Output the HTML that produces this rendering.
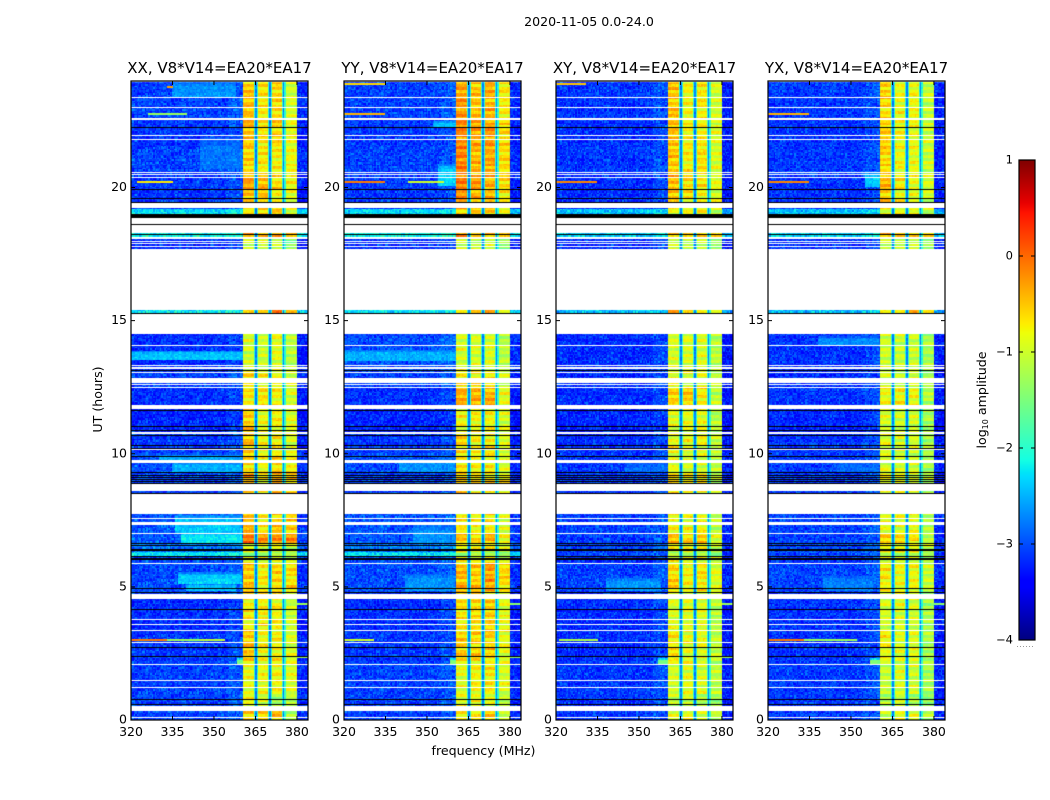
<!DOCTYPE html>
<html lang="en">
<head>
<meta charset="utf-8">
<title>2020-11-05 0.0-24.0</title>
<style>
html,body{margin:0;padding:0;background:#fff;width:1050px;height:800px;overflow:hidden}
#stage{position:relative;width:1050px;height:800px}
canvas{position:absolute;top:81px;display:block}
svg{position:absolute;left:0;top:0}
text{font-family:"DejaVu Sans","Liberation Sans",sans-serif;fill:#000}
</style>
</head>
<body>
<div id="stage">
<canvas id="c0" width="177" height="639" style="left:131px"></canvas>
<canvas id="c1" width="177" height="639" style="left:344px"></canvas>
<canvas id="c2" width="177" height="639" style="left:556px"></canvas>
<canvas id="c3" width="177" height="639" style="left:768px"></canvas>
<svg id="ov" width="1050" height="800">
<text x="589" y="26" text-anchor="middle" font-size="12.600">2020-11-05 0.0-24.0</text>
<text x="483.500" y="755" text-anchor="middle" font-size="12.600">frequency (MHz)</text>
<text transform="translate(102,399.500) rotate(-90)" text-anchor="middle" font-size="12.600">UT (hours)</text>
<text transform="translate(986,400) rotate(-90)" text-anchor="middle" font-size="12.600">log<tspan font-size="8" dy="2">10</tspan><tspan dy="-2"> amplitude</tspan></text>
</svg>
</div>
<script>
/* ---------- chart data ---------- */
const panelTitles = ['XX, V8*V14=EA20*EA17','YY, V8*V14=EA20*EA17','XY, V8*V14=EA20*EA17','YX, V8*V14=EA20*EA17'];
const xTicks = [320,335,350,365,380];
const yTicks = [0,5,10,15,20];
const colorTicks = [1,0,-1,-2,-3,-4];

/* UT edges of the time blocks; each level row below is [background, sub-band 1..4] in log10 amplitude */
const timeEdges = [0,.5,1,2.2,3.35,4.8,5.9,6.18,6.33,6.6,7.05,7.75,8.5,9.3,10,10.8,11.85,12.5,13.1,14.5,15.3,15.41,17.7,18.17,18.3,19,19.2,19.9,20.5,21.5,22.6,24];
const subBandEdges = [360.5,365,370,375,380];

const levelsXX = [
[-2.9,-.6,-.65,-.5,-1.15],[-2.9,-.85,-.95,-1.25,-1.2],[-2.9,-.85,-.85,-.8,-.9],[-2.95,-.55,-.8,-.75,-.95],
[-3,-.75,-.75,-.8,-1.05],[-2.85,-.5,-.75,-.6,-.65],[-2.85,-.9,-.9,-.9,-1],[-2.1,-1.3,-1.3,-1.3,-1.4],
[-2.6,-.85,-.85,-.85,-1],[-2.8,-.1,-.25,-.25,-.25],[-2.8,-.45,-.75,-.55,-.55],[-2.8,-.5,-.7,-.7,-1],
[-2.9,-.4,-.7,-.35,-.5],[-2.8,-.6,-.85,-.6,-.7],[-2.95,-.5,-.8,-.75,-.95],[-3.05,-.55,-.85,-.75,-.9],
[-3,-.75,-.7,-.8,-.95],[-2.9,-.7,-.8,-.8,-1],[-3,-1,-1.05,-.9,-1.15],[-3,-1,-1,-1,-1.15],
[-2.1,-.4,-.5,-.2,-.5],[-3,-1,-1,-1,-1.4],[-3,-1.05,-1.05,-1.05,-1.4],[-2,-.3,-.35,-.4,-.5],
[-3,-1,-1,-1,-1.4],[-2.15,-.75,-.55,-.5,-.9],[-2.95,-.45,-.5,-.75,-.85],[-2.95,-.35,-.45,-.6,-.8],
[-2.9,-.6,-.7,-.75,-.85],[-2.95,-.45,-.7,-.6,-.85],[-2.9,-.5,-.7,-.6,-1]];

const levelsYY = [
[-2.9,-.7,-.6,-.55,-1.15],[-2.9,-.9,-.85,-.9,-1.15],[-2.9,-.9,-.8,-.75,-.95],[-2.95,-.6,-.6,-.55,-.9],
[-3,-.7,-.65,-.6,-.9],[-2.85,-.45,-.5,-.3,-.65],[-2.85,-.8,-.8,-.7,-1],[-2.1,-1.3,-1.3,-1.3,-1.5],
[-2.6,-.8,-.8,-.8,-1],[-2.8,-.5,-.65,-.4,-.8],[-2.8,-.7,-.75,-.65,-.95],[-2.8,-.5,-.6,-.6,-.95],
[-2.9,-.45,-.7,-.65,-.8],[-2.85,-.7,-.8,-.75,-.95],[-2.95,-.65,-.75,-.7,-.95],[-3.05,-.8,-.8,-.8,-1],
[-3,-.4,-.4,-.4,-.9],[-2.9,-.75,-.75,-.75,-1],[-2.85,-.95,-.95,-.95,-1.15],[-3,-1,-1,-1,-1.15],
[-2.1,-.5,-.5,-.5,-.8],[-3,-1,-1,-1,-1.4],[-3,-1.05,-1.05,-1.05,-1.4],[-2,-.3,-.4,-.4,-.6],
[-3,-1,-1,-1,-1.4],[-2.15,-.7,-.6,-.6,-.95],[-2.95,-.2,-.4,-.45,-.8],[-2.95,-.15,-.3,-.4,-.6],
[-2.9,-.15,-.45,-.35,-.65],[-2.95,-.2,-.35,-.3,-.65],[-2.9,-.3,-.5,-.4,-.75]];

const levelsXY = [
[-2.95,-.95,-.8,-.95,-1.1],[-2.95,-1.1,-1,-1.2,-1.3],[-2.95,-1,-.9,-.95,-1.1],[-3,-.7,-.85,-.9,-1.1],
[-3,-.95,-.9,-.9,-1.15],[-2.9,-.6,-.75,-.7,-.95],[-3,-.9,-.9,-.9,-1.1],[-2.9,-1.2,-1.2,-1.2,-1.4],
[-2.9,-.8,-.8,-.8,-1.1],[-2.9,-.45,-.55,-.55,-.95],[-2.9,-.85,-.85,-.8,-1.1],[-2.9,-.8,-.85,-.85,-1.1],
[-2.95,-.7,-.8,-.8,-1.05],[-2.95,-.9,-.95,-.95,-1.15],[-3,-.8,-.85,-.85,-1.1],[-3.05,-.9,-.9,-.9,-1.15],
[-3,-.6,-.55,-.7,-1.1],[-3,-.9,-.9,-.9,-1.15],[-3,-.95,-.95,-.95,-1.15],[-3,-1,-1,-1,-1.15],
[-2.3,-.5,-.6,-.5,-.9],[-3,-1,-1,-1,-1.4],[-3,-1.05,-1.05,-1.05,-1.4],[-2.2,-.45,-.5,-.55,-.7],
[-3,-1,-1,-1,-1.4],[-2.25,-.9,-.8,-.75,-1.05],[-3,-.55,-.7,-.8,-.95],[-3,-.45,-.6,-.7,-.9],
[-2.95,-.5,-.75,-.7,-.95],[-3,-.5,-.75,-.7,-.95],[-2.95,-.5,-.8,-.75,-1]];

const levelsYX = [
[-2.95,-1.05,-.9,-.95,-1.25],[-2.95,-1.2,-1.05,-1.25,-1.4],[-2.95,-1.1,-.95,-1,-1.25],[-3,-.8,-.95,-.95,-1.25],
[-3,-1,-.95,-1,-1.25],[-2.9,-.75,-.85,-.85,-1.1],[-3,-.9,-.95,-.95,-1.2],[-2.9,-1.2,-1.2,-1.2,-1.4],
[-2.9,-.75,-.8,-.8,-1.1],[-2.9,-.6,-.7,-.7,-1.05],[-2.9,-.9,-.9,-.9,-1.2],[-2.9,-.8,-.85,-.9,-1.2],
[-2.95,-.8,-.85,-.9,-1.15],[-2.95,-1,-1,-1,-1.25],[-3,-.9,-.95,-1,-1.25],[-3.05,-1,-1,-1,-1.25],
[-3,-.85,-.75,-.85,-1.2],[-3,-1,-1,-1,-1.25],[-3,-1.05,-1.05,-1.05,-1.25],[-3,-1,-1,-1,-1.25],
[-2.3,-.5,-.6,-.5,-.9],[-3,-1,-1,-1,-1.4],[-3,-1.05,-1.05,-1.05,-1.4],[-2.2,-.45,-.5,-.55,-.7],
[-3,-1,-1,-1,-1.4],[-2.25,-.95,-.85,-.85,-1.1],[-3,-.6,-.8,-.9,-1.05],[-3,-.45,-.7,-.85,-1],
[-2.95,-.6,-.85,-.9,-1.05],[-3,-.6,-.8,-.85,-1.05],[-2.95,-.6,-.85,-.85,-1.1]];

/* unobserved (white) and flagged (black) time ranges, UT hours */
const whiteGaps = [[.08,.12],[.33,.51],[1.2,1.24],[1.45,1.52],[2.05,2.09],[2.88,2.92],[3.33,3.37],[3.56,3.6],[3.74,3.78],[4.54,4.58],[4.59,4.74],[5.86,5.9],[6.99,7.03],[7.31,7.42],[7.56,7.6],[7.74,8.47],[8.59,8.85],[9.67,9.75],[10.13,10.17],[10.73,10.82],[11.68,11.82],[12.48,12.5],[12.58,12.62],[12.67,12.86],[13.02,13.08],[13.2,13.24],[13.31,13.35],[14.04,14.08],[14.48,15.24],[15.41,17.7],[17.78,17.82],[17.87,17.92],[17.97,18],[18.08,18.14],[18.3,18.62],[18.64,18.84],[19.22,19.41],[20.35,20.39],[20.46,20.5],[20.53,20.57],[21.77,21.81],[21.94,21.98],[22.54,22.6],[22.97,23.01],[23.35,23.39]];
const blackBands = [[.57,.61],[.75,.79],[2.38,2.42],[2.69,2.73],[4.12,4.16],[4.78,4.82],[4.91,4.95],[6,6.04],[6.06,6.1],[6.13,6.17],[6.34,6.44],[6.52,6.56],[6.6,6.64],[8.47,8.51],[8.85,8.89],[8.94,8.98],[9.02,9.06],[9.1,9.14],[9.18,9.22],[9.27,9.31],[9.86,9.9],[10.18,10.22],[10.29,10.33],[10.65,10.69],[10.85,10.89],[11.01,11.05],[11.59,11.63],[13.1,13.14],[15.24,15.3],[18.2,18.24],[18.62,18.64],[18.84,18.99],[19.41,19.45],[19.55,19.59],[19.9,19.94],[22.25,22.29]];

/* brighter broad patches: [utFrom, utTo, freqFrom, freqTo, level] */
const patchesXX = [[4.85,5.1,340,358,-2.4],[5.1,5.55,337,360,-2.35],[6.6,7.05,338,360,-2.25],[7.05,7.7,336,360,-2.4],[13.55,13.87,320,360.5,-2.4],[9.3,9.7,335,360,-2.5],[9.76,9.95,330,360,-2.55],[23.4,24,335,358,-2.65],[20.7,21.9,345,360,-2.8],[2.1,2.3,358.5,360.5,-1.5]];
const patchesYY = [[4.85,5.5,342,360,-2.65],[6.65,7.3,345,360,-2.65],[13.5,13.9,320,360.5,-2.5],[9.3,9.8,340,360,-2.65],[20.1,20.9,354,360.5,-2.35],[22.3,22.5,352,360.5,-2.45],[2.1,2.3,358.5,360.5,-1.5]];
const patchesXY = [[4.85,5.35,338,358,-2.65],[9.3,9.7,345,360,-2.85],[2.1,2.3,357,360.5,-1.5],[2.18,2.3,360.5,367,-1.25]];
const patchesYX = [[4.85,5.4,340,358,-2.75],[14.1,14.4,338,360,-2.7],[20,20.6,355,360.5,-2.4],[9.3,9.7,345,360,-2.85],[2.1,2.3,357,360.5,-1.5]];

/* narrow-band streaks: [ut, freqFrom, freqTo, level] */
const streaksXX = [[3.05,320,333,-.1],[3.05,333,345,-1.3],[3.05,345,354,-1.1],[20.25,322,335,-.7],[22.8,326,340,-1.3],[23.82,333,335,-.3],[4.4,380,384,-1.3],[2.4,380,384,-1.3]];
const streaksYY = [[23.93,320,335,-.6],[22.8,320,335,-.4],[20.25,320,335,-.1],[20.25,343,356,-1],[3.05,320,331,-1],[4.4,380,384,-1.4],[2.4,380,384,-1.4]];
const streaksXY = [[23.93,320,331,-.5],[20.25,320,335,-.15],[3.05,321,335,-1.2],[4.4,380,384,-1.3],[2.4,380,384,-1.3]];
const streaksYX = [[22.8,320,335,-.4],[20.25,320,335,-.15],[3.05,320,333,-.1],[3.05,333,352,-1.3],[4.4,380,384,-1.4]];

/* visual texture only (not measured data): hand-typed grain offsets, log10 amplitude */
const speckle = [-.34,.18,-.12,.41,-.27,.05,.29,-.41,.12,-.06,.36,-.22,.23,-.38,.02,.47,-.17,.09,-.3,.26,-.09,.33,-.45,.15,-.2,.39,-.02,-.33,.21,.07,-.25,.44,-.14,.11,-.37,.3,-.05];
const rowRipple = [.16,-.22,.3,.04,-.28,.2,-.08,.32,-.16,.08,-.32,.24,0,-.24,.34,-.12,.12,-.34,.2,-.04,.26,-.18,.06];

const panelLevels = [levelsXX,levelsYY,levelsXY,levelsYX];
const panelPatches = [patchesXX,patchesYY,patchesXY,patchesYX];
const panelStreaks = [streaksXX,streaksYY,streaksXY,streaksYX];

/* ---------- axis functions ---------- */
const panelLefts = [131,344,556,768];
const axW = 177, axH = 639, axTop = 81;
const xOf = f => (f-320)*axW/64;
const yOf = ut => axH-ut*axH/24;
const cbarY = v => 160+(1-v)*96;

function interp(stops,t){
  for(let i=1;i<stops.length;i++){
    if(t<=stops[i][0]){
      const a=stops[i-1],b=stops[i];
      return a[1]+(b[1]-a[1])*(t-a[0])/(b[0]-a[0]);
    }
  }
  return stops[stops.length-1][1];
}
const jetR=[[0,0],[.35,0],[.66,1],[.89,1],[1,.5]];
const jetG=[[0,0],[.125,0],[.375,1],[.64,1],[.91,0],[1,0]];
const jetB=[[0,.5],[.11,1],[.34,1],[.65,0],[1,0]];
function jet(v){
  const t=Math.max(0,Math.min(1,(v+4)/5));
  return 'rgb('+Math.round(255*interp(jetR,t))+','+Math.round(255*interp(jetG,t))+','+Math.round(255*interp(jetB,t))+')';
}

/* ---------- heatmaps ---------- */
const chanMHz=.5, rowHours=.055;
function cellValue(p,ut,f,r,c){
  let k=0;
  while(k<timeEdges.length-2 && ut>=timeEdges[k+1]) k++;
  const row=panelLevels[p][k];
  const n=speckle.length;
  const tex=(speckle[(r*r*3+c*c*5+r*c*7+p*11)%n]+speckle[(c*c*c+r*r*r*2+r*c*3+p*5)%n])*.7;
  let v;
  if(f>=subBandEdges[0] && f<subBandEdges[4]){
    let s=0;
    while(s<3 && f>=subBandEdges[s+1]) s++;
    v=row[s+1]+rowRipple[(Math.floor(r/2)+s*5+p*3)%rowRipple.length]*.8+tex*.3;
    for(let e=1;e<=3;e++){
      const d=f-subBandEdges[e];
      if(d===0) v=-2.75+tex*.3;
      else if(Math.abs(d)===.5) v=-2+tex*.4;
    }
  }else{
    v=row[0]-.16+tex*.7;
    if(f>=355&&f<360.5) v+=.12;
    if(f>=380) v-=.12;
    for(const a of panelPatches[p]){
      if(ut>=a[0]&&ut<a[1]&&f>=a[2]&&f<a[3]){
        const w=Math.min(1,.35+(a[1]-ut)/(.5*(a[1]-a[0])));
        v=row[0]-.16+(a[4]-row[0]+.16)*w+tex*.4;
      }
    }
  }
  return v;
}
panelLefts.forEach((left,p)=>{
  const g=document.getElementById('c'+p).getContext('2d');
  g.fillStyle='#fff';
  g.fillRect(0,0,axW,axH);
  const nr=Math.round(24/rowHours), nc=Math.round(64/chanMHz);
  for(let r=0;r<nr;r++){
    const ut=r*rowHours;
    const y1=Math.round(yOf(ut)), y0=Math.round(yOf(ut+rowHours));
    for(let c=0;c<nc;c++){
      const f=320+c*chanMHz;
      const x0=Math.round(xOf(f)), x1=Math.round(xOf(f+chanMHz));
      g.fillStyle=jet(cellValue(p,ut+rowHours/2,f,r,c));
      g.fillRect(x0,y0,x1-x0,Math.max(1,y1-y0));
    }
  }
  for(const s of panelStreaks[p]){
    g.fillStyle=jet(s[3]);
    g.fillRect(Math.round(xOf(s[1])),Math.round(yOf(s[0])),Math.round(xOf(s[2])-xOf(s[1])),2);
  }
  g.fillStyle='#fff';
  for(const w of whiteGaps){
    const y0=Math.round(yOf(w[1])), y1=Math.round(yOf(w[0]));
    g.fillRect(0,y0,axW,Math.max(1,y1-y0));
  }
  g.fillStyle='#000';
  for(const b of blackBands){
    const y0=Math.round(yOf(b[1])), y1=Math.round(yOf(b[0]));
    g.fillRect(0,y0,axW,Math.max(1,y1-y0));
  }
});

/* ---------- axes ---------- */
const NS='http://www.w3.org/2000/svg';
const ov=document.getElementById('ov');
function mk(tag,parent){
  const el=document.createElementNS(NS,tag);
  parent.appendChild(el);
  return el;
}
function tick(parent,x1,y1,x2,y2){
  const el=mk('line',parent);
  
  
  el.setAttribute('x1',x1);el.setAttribute('y1',y1);el.setAttribute('x2',x2);el.setAttribute('y2',y2);
  el.setAttribute('stroke','#000');el.setAttribute('stroke-width','1');
}
panelLefts.forEach((left,p)=>{
  const grp=mk('g',ov);
  
  
  const frame=mk('rect',grp);
  
  
  frame.setAttribute('x',left);frame.setAttribute('y',axTop);
  frame.setAttribute('width',axW);frame.setAttribute('height',axH);
  frame.setAttribute('fill','none');frame.setAttribute('stroke','#000');frame.setAttribute('stroke-width','1.2');
  const title=mk('text',grp);
  
  
  title.setAttribute('x',left+axW/2);title.setAttribute('y',73);
  title.setAttribute('text-anchor','middle');title.setAttribute('font-size','15');
  title.textContent=panelTitles[p];
  xTicks.forEach(v=>{
    const x=left+xOf(v);
    if(v>320){
      tick(grp,x,axTop+axH,x,axTop+axH-4);
      tick(grp,x,axTop,x,axTop+4);
    }
    const t=mk('text',grp);
    
    
    t.setAttribute('x',x);t.setAttribute('y',736);
    t.setAttribute('text-anchor','middle');t.setAttribute('font-size','12.500');
    t.textContent=v;
  });
  yTicks.forEach(v=>{
    const y=axTop+yOf(v);
    if(v>0){
      tick(grp,left,y,left+4,y);
      tick(grp,left+axW,y,left+axW-4,y);
    }
    const t=mk('text',grp);
    
    
    t.setAttribute('x',left-4);t.setAttribute('y',y+3.500);
    t.setAttribute('text-anchor','end');t.setAttribute('font-size','12.500');
    t.textContent=v;
  });
});

/* ---------- colorbar ---------- */
const cb=mk('g',ov);


for(let py=160;py<640;py++){
  const v=1-(py+.5-160)/96;
  const seg=mk('rect',cb);
  
  
  seg.setAttribute('x',1019);seg.setAttribute('y',py);
  seg.setAttribute('width',16);seg.setAttribute('height',1);
  seg.setAttribute('fill',jet(v));
}
const cbFrame=mk('rect',cb);


cbFrame.setAttribute('x',1019);cbFrame.setAttribute('y',160);
cbFrame.setAttribute('width',16);cbFrame.setAttribute('height',480);
cbFrame.setAttribute('fill','none');cbFrame.setAttribute('stroke','#000');cbFrame.setAttribute('stroke-width','1.2');
colorTicks.forEach(v=>{
  const y=cbarY(v);
  tick(cb,1019,y,1023,y);
  tick(cb,1035,y,1031,y);
  const t=mk('text',cb);
  
  
  t.setAttribute('x',1013);t.setAttribute('y',y+3.500);
  t.setAttribute('text-anchor','end');t.setAttribute('font-size','11.500');
  t.textContent=v<0?'\u2212'+Math.abs(v):String(v);
});
const dots=mk('line',cb);


dots.setAttribute('x1',1017);dots.setAttribute('y1',646.500);dots.setAttribute('x2',1035);dots.setAttribute('y2',646.500);
dots.setAttribute('stroke','#999');dots.setAttribute('stroke-width','1');dots.setAttribute('stroke-dasharray','1 2');
</script>
</body>
</html>
